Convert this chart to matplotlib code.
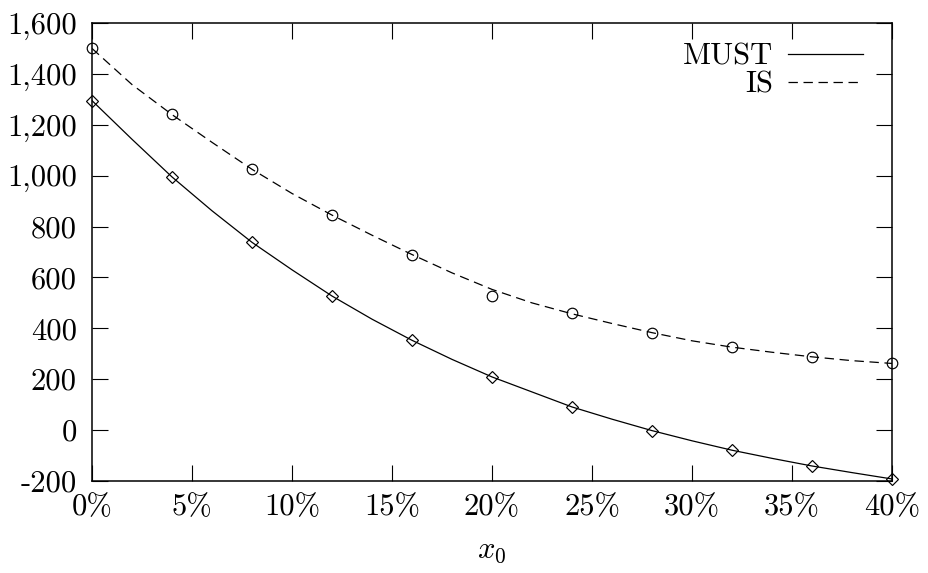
import matplotlib
matplotlib.use("Agg")
import matplotlib.pyplot as plt

# Globals and constants variables.
x_markers = [0, 4, 8, 12, 16, 20, 24, 28, 32, 36, 40]
must_markers = [1295, 995, 738, 527, 353, 209, 91, -2, -79, -141, -192]
is_markers = [1503, 1242, 1025, 845, 690, 527, 459, 383, 327, 289, 262]

x_curve = [0, 2, 4, 6, 8, 10, 12, 14, 16, 18, 20, 22, 24, 26, 28, 30, 32, 34, 36, 38, 40]
must_curve = [1295, 1143, 995, 862, 738, 630, 527, 436, 353, 278, 209, 150, 91, 43, -2,
              -42, -79, -111, -141, -167, -192]
is_curve = [1500, 1358, 1240, 1131, 1025, 930, 845, 766, 690, 618, 553, 500, 457, 419, 383,
            351, 326, 306, 288, 273, 262]

x_ticks = [0, 5, 10, 15, 20, 25, 30, 35, 40]
x_tick_labels = ["0%", "5%", "10%", "15%", "20%", "25%", "30%", "35%", "40%"]
y_ticks = [-200, 0, 200, 400, 600, 800, 1000, 1200, 1400, 1600]
y_tick_labels = ["-200", "0", "200", "400", "600", "800", "1,000", "1,200", "1,400", "1,600"]

plt.rcParams["font.family"] = ["cmr10", "DejaVu Serif"]
plt.rcParams["mathtext.fontset"] = "cm"
plt.rcParams["axes.unicode_minus"] = False

fig = plt.figure(figsize=(9.29, 5.73), dpi=100)
ax = fig.add_axes([92 / 929, 92 / 573, 800 / 929, 458 / 573])

line_width = 0.9
ax.plot(x_curve, must_curve, color="black", linewidth=line_width, label="MUST")
ax.plot(x_curve, is_curve, color="black", linewidth=line_width, dashes=(7.5, 4.5), label="IS")
ax.plot(x_markers, must_markers, linestyle="none", marker="D", markersize=6.4,
        markerfacecolor="none", markeredgecolor="black", markeredgewidth=0.85, clip_on=False)
ax.plot(x_markers, is_markers, linestyle="none", marker="o", markersize=7.6,
        markerfacecolor="none", markeredgecolor="black", markeredgewidth=0.85, clip_on=False)

ax.set_xlim(0, 40)
ax.set_ylim(-200, 1600)
ax.set_xticks(x_ticks)
ax.set_xticklabels(x_tick_labels)
ax.set_yticks(y_ticks)
ax.set_yticklabels(y_tick_labels)
ax.tick_params(direction="in", length=11.5, width=0.8, labelsize=22,
               top=True, right=True)
ax.tick_params(axis="y", pad=11)
ax.tick_params(axis="x", pad=9)
for spine in ax.spines.values():
    spine.set_linewidth(1.1)

ax.set_xlabel(r"$x_0$", fontsize=22, labelpad=12)

ax.legend(loc="upper right", bbox_to_anchor=(863 / 929, (573 - 43) / 573),
          bbox_transform=fig.transFigure, frameon=False, markerfirst=False,
          fontsize=22, handlelength=2.45, handletextpad=0.5, labelspacing=0.02,
          borderpad=0, borderaxespad=0)

fig.savefig("out.png", dpi=100)
